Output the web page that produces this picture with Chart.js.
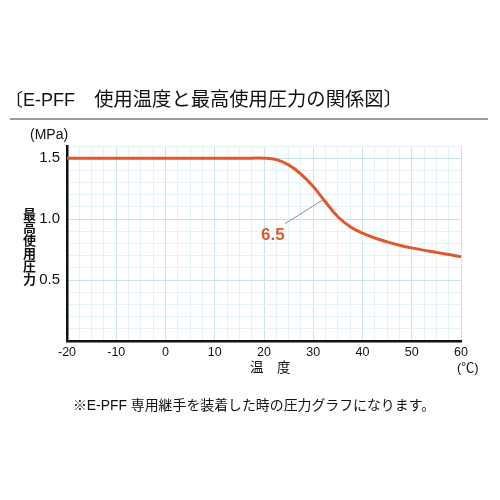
<!DOCTYPE html>
<html>
<head>
<meta charset="utf-8">
<script src="https://cdn.jsdelivr.net/npm/chart.js@4.4.1/dist/chart.umd.min.js"></script>
<style>
  html, body { margin: 0; padding: 0; background: #fff; }
  #wrap { position: relative; width: 500px; height: 500px; overflow: hidden; }
  #wrap canvas { position: absolute; left: 0; top: 0; }
  .txt { position: absolute; color: #111; font-family: "Liberation Sans", "Noto Sans CJK JP", sans-serif; white-space: nowrap; line-height: 1; }
  #title { left: 5px; top: 90px; font-size: 18px; }
  #title .jp { font-size: 19.3px; }
  #rule { position: absolute; left: 10px; top: 118px; width: 478px; height: 2px; background: #9a9a9a; }
  #unitY { left: 30px; top: 127px; font-size: 14px; }
  #titleY { left: 22px; top: 208px; font-size: 13px; writing-mode: vertical-rl; text-orientation: upright; font-weight: bold; }
  #titleX { left: 250px; top: 361px; font-size: 13.5px; }
  #unitX { left: 457px; top: 361px; font-size: 13px; }
  #note { left: 0; width: 508px; text-align: center; top: 399px; font-size: 13.9px; }
</style>
</head>
<body>
<div id="wrap">
  <canvas id="myCanvas" width="500" height="500"></canvas>
  <div class="txt" id="title">〔E-PFF<span class="jp">　使用温度と最高使用圧力の関係図〕</span></div>
  <div id="rule"></div>
  <div class="txt" id="unitY">(MPa)</div>
  <div class="txt" id="titleY">最高使用圧力</div>
  <div class="txt" id="titleX">温　度</div>
  <div class="txt" id="unitX">(℃)</div>
  <div class="txt" id="note">※E-PFF 専用継手を装着した時の圧力グラフになります。</div>
</div>
<script>
// temperature (℃) and max working pressure (MPa)
const temps     = [-20, 17.5, 20, 22.5, 25, 27.5, 30, 32.5, 35, 37.5, 40, 42.5, 45, 47.5, 50, 55, 60]
const pressures = [1.5, 1.5, 1.5, 1.488, 1.445, 1.37, 1.268, 1.14, 1.02, 0.938, 0.885, 0.845, 0.813, 0.786, 0.764, 0.727, 0.692]

const seriesLabel = '6.5'
// label anchor and leader line, in data units
const labelAt    = [21.8, 0.865]
const leaderFrom = [24.3, 0.963]
const leaderTo   = [32.0, 1.159]

const xTickLabels = [-20, -10, 0, 10, 20, 30, 40, 50, 60]
const yTickLabels = [0.5, 1.0, 1.5]

const orange = '#e0592a'

document.addEventListener('DOMContentLoaded', () => {
  createPressureChart()
})

const seriesNote = {
  id: 'seriesNote',
  afterDatasetsDraw(chart) {
    const { ctx, scales: { x, y } } = chart
    ctx.save()
    ctx.strokeStyle = '#8c8c8c'
    ctx.lineWidth = 1
    ctx.beginPath()
    ctx.moveTo(x.getPixelForValue(leaderFrom[0]), y.getPixelForValue(leaderFrom[1]))
    ctx.lineTo(x.getPixelForValue(leaderTo[0]), y.getPixelForValue(leaderTo[1]))
    ctx.stroke()
    ctx.fillStyle = orange
    ctx.font = 'bold 17px "Liberation Sans", sans-serif'
    ctx.textAlign = 'center'
    ctx.textBaseline = 'middle'
    ctx.fillText(seriesLabel, x.getPixelForValue(labelAt[0]), y.getPixelForValue(labelAt[1]))
    ctx.restore()
  }
}

function createPressureChart() {
  const context = document.getElementById('myCanvas').getContext('2d')

  new Chart(context, {
    type: 'line',
    data: {
      datasets: [{
        label: seriesLabel,
        data: temps.map((t, i) => ({ x: t, y: pressures[i] })),
        borderColor: orange,
        borderWidth: 3,
        pointRadius: 0,
        fill: false,
        tension: 0.4
      }]
    },
    plugins: [seriesNote],
    options: {
      responsive: false,
      animation: false,
      layout: { padding: { left: 0, right: 39, top: 146, bottom: 129 } },
      plugins: {
        legend: { display: false },
        tooltip: { enabled: false }
      },
      scales: {
        x: {
          type: 'linear',
          min: -20,
          max: 60,
          afterFit: s => { s.height = 30 },
          afterBuildTicks: s => {
            s.ticks = []
            for (let v = -20; v <= 60; v += 2.5) s.ticks.push({ value: v })
          },
          ticks: {
            autoSkip: false,
            maxRotation: 0,
            padding: 4,
            color: '#111',
            font: { family: '"Liberation Sans", sans-serif', size: 12.5 },
            callback: v => xTickLabels.includes(v) ? String(v) : ''
          },
          grid: {
            drawTicks: false,
            lineWidth: 1,
            color: c => (c.tick && c.tick.value % 10 === 0) ? '#c9e4ef' : '#e4f1f7'
          },
          border: { color: '#111', width: 2.5 }
        },
        y: {
          min: 0,
          max: 1.6,
          afterFit: s => { s.width = 67 },
          afterBuildTicks: s => {
            s.ticks = []
            for (let i = 0; i <= 16; i++) s.ticks.push({ value: i / 10 })
          },
          ticks: {
            autoSkip: false,
            padding: 7,
            color: '#111',
            font: { family: '"Liberation Sans", sans-serif', size: 15 },
            callback: v => yTickLabels.some(t => Math.abs(t - v) < 1e-6) ? v.toFixed(1) : ''
          },
          grid: {
            drawTicks: false,
            lineWidth: 1,
            color: c => (c.tick && Math.round(c.tick.value * 10) % 5 === 0) ? '#c9e4ef' : '#e4f1f7'
          },
          border: { color: '#111', width: 2.5 }
        }
      }
    }
  })
}
</script>
</body>
</html>
